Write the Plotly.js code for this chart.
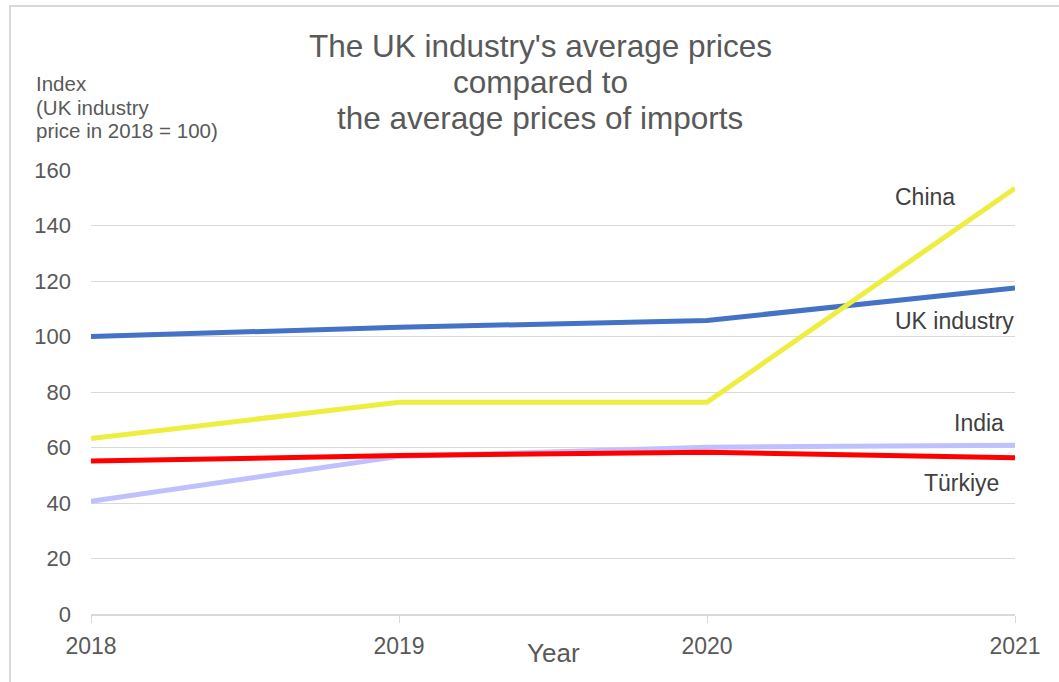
<!DOCTYPE html>
<html>
<head>
<meta charset="utf-8">
<script src="https://cdn.plot.ly/plotly-3.0.1.min.js"></script>
<style>
  html, body { margin: 0; padding: 0; background: #fff; }
  #chart { width: 1059px; height: 682px; position: absolute; left: 0; top: 0; }
  #frame { position: absolute; left: 9px; top: 5px; width: 1100px; height: 700px;
           border-top: 2px solid #d9d9d9; border-left: 2px solid #d9d9d9; pointer-events: none; }
</style>
</head>
<body>
<div id="chart"></div>
<div id="frame"></div>
<script>
const years = [2018, 2019, 2020, 2021];
const ukIndustry = [100, 103.3, 105.8, 117.5];
const china = [63.2, 76.3, 76.3, 153.4];
const india = [40.6, 56.8, 60.1, 60.8];
const turkiye = [55.1, 57.1, 58.3, 56.3];
const yTicks = [0, 20, 40, 60, 80, 100, 120, 140, 160];
const titleLines = ["The UK industry's average prices", "compared to", "the average prices of imports"];
const yTitleLines = ["Index", "(UK industry", "price in 2018 = 100)"];

const W = 1059, H = 682;
const L = 91, R = 44, T = 170, B = 68;
const pw = W - L - R, ph = H - T - B;
const px = x => (x - L) / pw;
const py = y => (H - B - y) / ph;

const font = "'Liberation Sans', Arial, sans-serif";

function line(name, y, color) {
  return { x: years, y: y, name: name, type: 'scatter', mode: 'lines',
           line: { color: color, width: 5 }, hoverinfo: 'skip' };
}

const data = [
  line('UK industry', ukIndustry, '#4472C4'),
  line('India', india, '#C0C0FF'),
  line('Türkiye', turkiye, '#FF0000'),
  line('China', china, '#EEEE40')
];

const labelFont = { family: font, size: 23, color: '#404040' };
function ann(text, x, y, size, xanchor, color) {
  return { xref: 'paper', yref: 'paper', x: px(x), y: py(y), xanchor: xanchor || 'center', yanchor: 'middle',
           text: text, showarrow: false, font: { family: font, size: size, color: color || '#595959' } };
}

const annotations = [];
const titleY = [46, 82, 118];
titleLines.forEach((t, i) => annotations.push(ann(t, 540, titleY[i], 31.5)));
const yTitleY = [84, 107, 130];
yTitleLines.forEach((t, i) => annotations.push(ann(t, 34, yTitleY[i], 20.5, 'left')));
annotations.push(ann('Year', 553, 653, 26));
annotations.push(ann('China', 925, 197, 23, 'center', '#404040'));
annotations.push(ann('UK industry', 954, 321, 23, 'center', '#404040'));
annotations.push(ann('India', 979, 423, 23, 'center', '#404040'));
annotations.push(ann('Türkiye', 961, 483, 23, 'center', '#404040'));

const layout = {
  width: W, height: H,
  margin: { l: L, r: R, t: T, b: B, pad: 0 },
  paper_bgcolor: '#fff', plot_bgcolor: '#fff',
  showlegend: false,
  font: { family: font, color: '#595959' },
  xaxis: {
    range: [2018, 2021], tickvals: years, ticktext: years.map(String),
    showgrid: false, zeroline: false,
    showline: true, linecolor: '#d9d9d9', linewidth: 2,
    ticks: 'outside', ticklen: 7, tickcolor: '#d9d9d9', tickwidth: 1,
    tickfont: { family: font, size: 23, color: '#595959' },
    ticklabelstandoff: 3, fixedrange: true
  },
  yaxis: {
    range: [0, 160], tickvals: yTicks,
    showgrid: true, gridcolor: '#d9d9d9', gridwidth: 1,
    zeroline: false, showline: false, ticks: '',
    tickfont: { family: font, size: 22, color: '#595959' },
    ticklabelstandoff: 19, fixedrange: true
  },
  annotations: annotations
};

Plotly.newPlot('chart', data, layout, { staticPlot: true, displayModeBar: false });
</script>
</body>
</html>
